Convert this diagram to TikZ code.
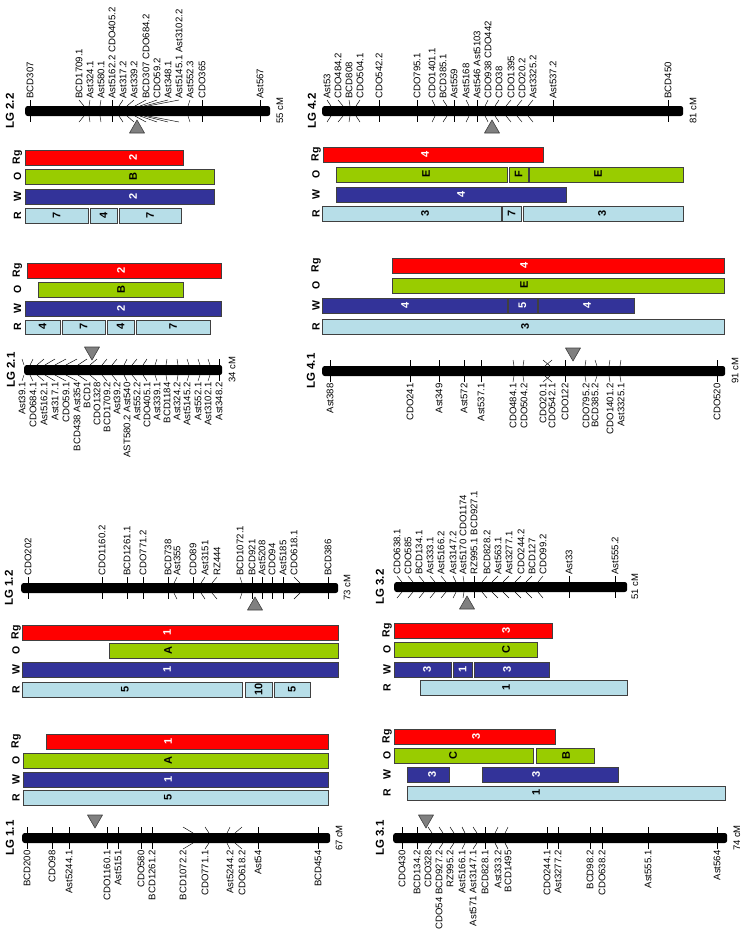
\documentclass[tikz,border=0pt]{standalone}
\usepackage{fontspec}
\setmainfont{Liberation Sans}
\definecolor{lgred}{HTML}{FF0000}
\definecolor{lggreen}{HTML}{99CC00}
\definecolor{lgnavy}{HTML}{333399}
\definecolor{lgpale}{HTML}{B7DEE8}
\definecolor{edge}{HTML}{404040}
\definecolor{cengray}{HTML}{808080}
\tikzset{
  chrom/.style={fill=black,rounded corners=2.5pt,minimum height=10pt,inner sep=0pt,anchor=west},
  mk/.style={rotate=90,font=\fontsize{9.6}{10}\selectfont,inner sep=1.2pt},
  tick/.style={line width=.45pt,color=black},
  lgname/.style={rotate=90,font=\fontsize{11.5}{12}\selectfont\bfseries,inner sep=0pt},
  cmtag/.style={rotate=90,font=\fontsize{9.5}{10}\selectfont,inner sep=0pt},
  rowtag/.style={rotate=90,font=\fontsize{10.5}{11}\selectfont\bfseries,inner sep=0pt},
  seg/.style={draw=edge,line width=.8pt,inner sep=0pt,minimum height=14.5pt,anchor=north west},
  rgbox/.style={seg,fill=lgred},
  obox/.style={seg,fill=lggreen},
  wbox/.style={seg,fill=lgnavy},
  rbox/.style={seg,fill=lgpale},
  btxt/.style={rotate=90,font=\fontsize{11}{12}\selectfont\bfseries,inner sep=0pt},
  rgtxt/.style={btxt,text=white},
  otxt/.style={btxt,text=black},
  wtxt/.style={btxt,text=white},
  rtxt/.style={btxt,text=black},
  cen/.style={fill=cengray,draw=edge,line width=.6pt,line join=round},
}
% linkage group, marker names above the bar
\newcommand{\chromup}[5]{%
  \node[chrom,minimum width={(#3-#2)*1pt}] (#1) at (#2,#4) {};
  \foreach \lx/\px/\txt [count=\i] in {#5}{%
    \coordinate (#1p\i) at (\px,#4-5);
    \coordinate (#1q\i) at (\px,#4+5);
    \coordinate (#1r\i) at (\lx,#4+11);
    \node[mk,anchor=west] (#1l\i) at (\lx,#4-11) {\txt};
    \draw[tick] (#1l\i.west) -- (#1p\i);
    \draw[tick] (#1q\i) -- (#1r\i);
  }}
% linkage group, marker names below the bar
\newcommand{\chromdown}[5]{%
  \node[chrom,minimum width={(#3-#2)*1pt}] (#1) at (#2,#4) {};
  \foreach \lx/\px/\txt [count=\i] in {#5}{%
    \coordinate (#1p\i) at (\px,#4+5);
    \coordinate (#1q\i) at (\px,#4-5);
    \coordinate (#1r\i) at (\lx,#4-11);
    \node[mk,anchor=east] (#1l\i) at (\lx,#4+11) {\txt};
    \draw[tick] (#1l\i.east) -- (#1p\i);
    \draw[tick] (#1q\i) -- (#1r\i);
  }}
% one coloured block: name, kind, x1, x2, top, text x, text
\newcommand{\blk}[7]{%
  \node[#2box,minimum width={(#4-#3)*1pt}] (#1) at (#3,#5) {};
  \node[#2txt] (#1t) at (#6,#5+7.25) {#7};}
\newcommand{\rowtags}[6]{%
  \node[rowtag] (#1rg) at (#2,#3+7.25) {Rg};
  \node[rowtag] (#1o) at (#2,#4+7.25) {O};
  \node[rowtag] (#1w) at (#2,#5+7.25) {W};
  \node[rowtag] (#1r) at (#2,#6+7.25) {R};}
\newcommand{\cenup}[2]{\draw[cen] (#1-7.5,#2+22) -- (#1,#2+9) -- (#1+7.5,#2+22) -- cycle;}
\newcommand{\cendown}[2]{\draw[cen] (#1-7.5,#2-23) -- (#1,#2-10) -- (#1+7.5,#2-23) -- cycle;}

\begin{document}
\begin{tikzpicture}[x=1pt,y=-1pt]
  \useasboundingbox (0,0) rectangle (741,937);

  % ---- LG 2.2
  \node[lgname] (t22) at (10,111) {LG 2.2};
  \chromup{c22}{25}{270}{111}{30/30/BCD307, 79/84/BCD1709.1, 90/89/Ast324.1,
    101/100/Ast580.1, 112/112/{Ast5162.2 CDO405.2}, 123/119/Ast317.2,
    134/127/Ast339.2, 146/135/{BCD307 CDO684.2}, 157/140/CDO59.2,
    168/144/Ast348.1, 179/148/{Ast5145.1 Ast3102.2}, 190/188/Ast552.3,
    202/202/CDO365, 260/260/Ast567}
  \node[cmtag] (cm22) at (280,111) {55 cM};
  \cenup{137}{111}
  \rowtags{g22}{17.5}{150}{169}{189}{208}
  \blk{b22rg}{rg}{25}{183}{150}{133}{2}
  \blk{b22o}{o}{25}{214}{169}{133}{B}
  \blk{b22w}{w}{25}{214}{189}{133}{2}
  \blk{b22ra}{r}{25}{88}{208}{56.5}{7}
  \blk{b22rb}{r}{90}{117}{208}{103.5}{4}
  \blk{b22rc}{r}{119}{181}{208}{150}{7}

  % ---- LG 2.1
  \rowtags{g21}{17.5}{263}{282}{301}{319.5}
  \blk{b21rg}{rg}{27}{221}{263}{121}{2}
  \blk{b21o}{o}{38}{183}{282}{121}{B}
  \blk{b21w}{w}{25}{221}{301}{121}{2}
  \blk{b21ra}{r}{25}{60}{319.5}{42.5}{4}
  \blk{b21rb}{r}{62}{105}{319.5}{83.5}{7}
  \blk{b21rc}{r}{107}{134}{319.5}{120.5}{4}
  \blk{b21rd}{r}{136}{210}{319.5}{173}{7}
  \node[lgname] (t21) at (11,370) {LG 2.1};
  \chromdown{c21}{24}{222}{370}{22/24/Ast39.1, 33/30/CDO684.1, 44/37/Ast5162.1,
    55/45/Ast317.1, 66/55/CDO59.1, 77/66/{BCD438 Ast354}, 87/78/BCD1,
    97/90/CDO1328, 107/102/BCD1709.2, 117/112/Ast39.2, 127/124/{AST580.2 Ast540},
    137/132/Ast552.2, 147/143/CDO405.1, 157/155/Ast339.1, 167/166/BCD1184,
    177/178/Ast324.2, 187/189/Ast5145.2, 198/200/Ast552.1, 208/210/Ast3102.1,
    219/219/Ast348.2}
  \node[cmtag] (cm21) at (232,370) {34 cM};
  \cendown{92}{370}

  % ---- LG 4.2
  \node[lgname] (t42) at (312,111) {LG 4.2};
  \chromup{c42}{322}{683}{111}{327/331/Ast53, 338/343/CDO484.2, 349/350/BCD808,
    360/356/CDO504.1, 379/379/CDO542.2, 417/417/CDO795.1, 432/435/CDO1401.1,
    443/447/BCD385.1, 454/454/Ast559, 466/469/Ast5168, 477/477/{Ast546 Ast5103},
    488/485/{CDO938 CDO442}, 499/495/CDO38, 511/506/CDO1395, 522/517/CDO20.2,
    533/528/Ast3325.2, 553/553/Ast537.2, 668/668/BCD450}
  \node[cmtag] (cm42) at (693,111) {81 cM};
  \cenup{492}{111}
  \rowtags{g42}{316}{147}{167}{187}{206}
  \blk{b42rg}{rg}{323}{543}{147}{425}{4}
  \blk{b42oa}{o}{336}{507}{167}{426}{E}
  \blk{b42ob}{o}{509}{528}{167}{518.5}{F}
  \blk{b42oc}{o}{529}{683}{167}{598}{E}
  \blk{b42w}{w}{336}{566}{187}{461}{4}
  \blk{b42ra}{r}{322}{501}{206}{425}{3}
  \blk{b42rb}{r}{502}{521}{206}{511.5}{7}
  \blk{b42rc}{r}{523}{683}{206}{602}{3}

  % ---- LG 4.1
  \rowtags{g41}{316}{258}{278}{298}{319}
  \blk{b41rg}{rg}{392}{724}{258}{524}{4}
  \blk{b41o}{o}{392}{724}{278}{524}{E}
  \blk{b41wa}{w}{322}{507}{298}{405}{4}
  \blk{b41wb}{w}{508}{537}{298}{522.5}{5}
  \blk{b41wc}{w}{538}{634}{298}{587}{4}
  \blk{b41r}{r}{322}{724}{319}{525}{3}
  \node[lgname] (t41) at (311,371) {LG 4.1};
  \chromdown{c41}{322}{725}{371}{330/330/Ast388, 410/410/CDO241, 439/439/Ast349,
    464/464/Ast572, 481/481/Ast537.1, 513/514/CDO484.1, 524/523/CDO504.2,
    543/550/CDO20.1, 552/545/CDO542.1, 565/565/CDO122, 586/585/CDO795.2,
    595/597/BCD385.2, 610/609/CDO1401.2, 621/620/Ast3325.1, 717/717/CDO520}
  \node[cmtag] (cm41) at (735,371) {91 cM};
  \cendown{573}{371}

  % ---- LG 1.2
  \node[lgname] (t12) at (9,588) {LG 1.2};
  \chromup{c12}{21}{338}{588}{28/28/CDO202, 102/102/CDO1160.2, 127/127/BCD1261.1,
    143/143/CDO771.2, 168/168/BCD738, 177/174/Ast355, 193/193/CDO89,
    205/201/Ast3151, 217/212/RZ444, 240/242/BCD1072.1, 252/252/BCD921,
    262/262/Ast5208, 272/272/CDO94, 283/283/Ast5185, 294/300/CDO618.1,
    328/328/BCD386}
  \node[cmtag] (cm12) at (347,588) {73 cM};
  \cenup{255}{588}
  \rowtags{g12}{16}{625}{643}{662}{682}
  \blk{b12rg}{rg}{22}{338}{625}{167}{1}
  \blk{b12o}{o}{109}{338}{643}{168}{A}
  \blk{b12w}{w}{22}{338}{662}{167}{1}
  \blk{b12ra}{r}{22}{242}{682}{125}{5}
  \blk{b12rb}{r}{245}{272}{682}{258.5}{10}
  \blk{b12rc}{r}{274}{310}{682}{292}{5}

  % ---- LG 1.1
  \rowtags{g11}{16}{734}{753}{772}{790}
  \blk{b11rg}{rg}{46}{328}{734}{168}{1}
  \blk{b11o}{o}{23}{328}{753}{168}{A}
  \blk{b11w}{w}{23}{328}{772}{168}{1}
  \blk{b11r}{r}{23}{328}{790}{168}{5}
  \node[lgname] (t11) at (10,838) {LG 1.1};
  \chromdown{c11}{22}{330}{838}{27/27/BCD200, 52/52/CDO98, 69/69/Ast5244.1,
    107/107/CDO1160.1, 118/118/Ast5151, 141/141/CDO580, 152/152/BCD1261.2,
    183/193/BCD1072.2, 205/209/CDO771.1, 230/227/Ast5244.2, 242/235/CDO618.2,
    258/258/Ast54, 318/318/BCD454}
  \node[cmtag] (cm11) at (339,838) {67 cM};
  \cendown{95}{838}

  % ---- LG 3.2
  \node[lgname] (t32) at (380,587) {LG 3.2};
  \chromup{c32}{394}{627}{587}{397/402/CDO638.1, 408/413/CDO585, 419/424/BCD134.1,
    430/435/Ast333.1, 441/446/Ast5166.2, 453/456/Ast3147.2, 463/464/{Ast5170 CDO1174},
    474/474/{RZ995.1 BCD927.1}, 487/482/BCD828.2, 498/492/Ast563.1,
    509/503/Ast3277.1, 521/515/CDO244.2, 532/526/BCD127, 543/538/CDO99.2,
    569/569/Ast33, 615/615/Ast555.2}
  \node[cmtag] (cm32) at (635,587) {51 cM};
  \cenup{467}{587}
  \rowtags{g32}{387}{623}{642}{662}{680}
  \blk{b32rg}{rg}{394}{552}{623}{506}{3}
  \blk{b32o}{o}{394}{537}{642}{506}{C}
  \blk{b32wa}{w}{394}{451}{662}{427}{3}
  \blk{b32wb}{w}{453}{472}{662}{462.5}{1}
  \blk{b32wc}{w}{474}{549}{662}{507}{3}
  \blk{b32r}{r}{420}{627}{680}{506}{1}

  % ---- LG 3.1
  \rowtags{g31}{387}{729}{748}{767}{785.5}
  \blk{b31rg}{rg}{394}{555}{729}{476}{3}
  \blk{b31oa}{o}{394}{533}{748}{453}{C}
  \blk{b31ob}{o}{536}{594}{748}{566}{B}
  \blk{b31wa}{w}{407}{449}{767}{432}{3}
  \blk{b31wb}{w}{482}{618}{767}{536}{3}
  \blk{b31r}{r}{407}{725}{785.5}{536}{1}
  \node[lgname] (t31) at (380,838) {LG 3.1};
  \chromdown{c31}{393}{727}{838}{402/402/CDO430, 417/417/BCD134.2, 428/432/CDO328,
    439/443/{CDO54 BCD927.2}, 450/454/RZ995.2, 462/465/Ast5166.1,
    473/477/{Ast571 Ast3147.1}, 485/485/BCD828.1, 498/495/Ast333.2,
    508/505/BCD1495, 547/547/CDO244.1, 558/558/Ast3277.2, 590/590/BCD98.2,
    602/602/CDO638.2, 648/648/Ast555.1, 717/717/Ast564}
  \node[cmtag] (cm31) at (737,838) {74 cM};
  \cendown{426}{838}
\end{tikzpicture}
\end{document}
